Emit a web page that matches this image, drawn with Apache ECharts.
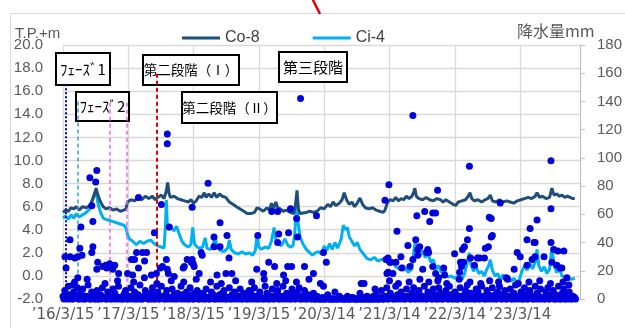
<!DOCTYPE html>
<html>
<head>
<meta charset="utf-8">
<script src="https://cdn.jsdelivr.net/npm/echarts@6/dist/echarts.min.js"></script>
<style>
  html, body { margin: 0; padding: 0; background: #fff; }
  #chart { width: 625px; height: 328px; }
</style>
</head>
<body>
<div id="chart"></div>
<script>
  // x = 2016/3/15 からの経過日数
  var co8 = [[0,5.5],[15,5.7],[30,5.6],[45,5.9],[60,5.8],[75,6.0],[90,5.7],[110,6.0],[130,5.9],[150,6.1],[165,6.6],[178,7.2],[185,7.6],[195,7.0],[210,6.4],[225,6.0],[240,5.8],[260,5.9],[280,5.7],[300,5.8],[320,5.6],[340,5.7],[352,5.8],[360,6.4],[380,6.6],[400,6.5],[420,6.8],[440,6.6],[460,6.9],[480,6.7],[500,6.9],[515,6.6],[530,6.8],[550,7.0],[565,6.7],[578,7.4],[585,8.1],[592,7.2],[600,6.8],[620,6.9],[640,6.7],[660,6.6],[680,6.5],[700,6.4],[715,6.6],[730,6.3],[745,6.5],[760,6.9],[775,6.8],[790,7.2],[800,6.8],[815,7.1],[830,6.8],[845,7.2],[860,6.8],[875,7.1],[890,6.9],[910,6.8],[930,6.4],[950,6.2],[970,6.0],[990,5.8],[1010,5.6],[1030,5.4],[1050,5.4],[1070,5.5],[1085,5.9],[1100,5.8],[1120,5.6],[1140,5.9],[1155,5.7],[1165,6.3],[1175,5.8],[1190,6.4],[1200,5.9],[1215,5.8],[1230,5.6],[1250,5.7],[1270,5.5],[1290,5.4],[1300,6.2],[1308,7.4],[1316,5.8],[1325,5.4],[1335,5.3],[1360,5.5],[1380,5.6],[1400,5.5],[1420,5.6],[1440,5.9],[1460,5.8],[1480,6.2],[1495,6.0],[1510,6.4],[1525,6.1],[1545,6.3],[1560,6.6],[1572,7.2],[1585,6.6],[1600,6.2],[1615,6.4],[1630,6.0],[1645,6.3],[1660,6.75],[1675,6.2],[1690,5.9],[1710,5.8],[1730,5.9],[1750,5.7],[1770,5.6],[1790,5.5],[1800,5.7],[1815,6.4],[1830,6.6],[1845,6.5],[1860,6.8],[1875,6.5],[1890,6.7],[1905,6.6],[1920,6.9],[1935,6.7],[1950,6.9],[1960,7.2],[1967,7.6],[1975,6.9],[1990,6.7],[2010,6.6],[2030,6.8],[2050,6.6],[2070,6.5],[2090,6.7],[2110,6.6],[2125,6.4],[2140,6.6],[2160,6.4],[2180,6.2],[2195,6.1],[2210,6.4],[2230,6.5],[2250,6.6],[2265,6.9],[2275,7.2],[2285,6.7],[2300,6.5],[2320,6.6],[2340,6.4],[2360,6.6],[2375,6.7],[2389,7.0],[2400,6.5],[2420,6.4],[2440,6.6],[2460,6.4],[2480,6.5],[2500,6.4],[2520,6.3],[2540,6.5],[2560,6.6],[2580,6.7],[2600,6.8],[2620,6.7],[2640,6.9],[2650,7.2],[2665,6.8],[2680,6.9],[2700,6.7],[2720,6.8],[2733,7.6],[2745,7.0],[2760,7.1],[2775,6.9],[2790,7.0],[2805,6.8],[2820,6.9],[2835,6.8],[2850,6.7],[2861,6.7]];

  var ci4 = [[0,5.0],[15,5.2],[30,4.9],[45,5.3],[60,5.0],[75,5.4],[90,5.1],[110,5.3],[130,5.5],[150,5.8],[165,6.6],[178,7.2],[185,7.4],[195,6.3],[210,5.5],[225,5.0],[240,4.9],[260,4.8],[280,4.7],[300,4.6],[320,4.5],[340,4.4],[352,4.2],[360,3.6],[372,3.2],[390,3.0],[410,2.7],[430,3.0],[450,2.8],[470,3.0],[490,3.1],[510,2.8],[530,2.6],[550,2.5],[565,2.4],[573,4.5],[578,6.6],[583,4.4],[590,4.0],[605,4.2],[620,3.9],[635,4.3],[650,3.6],[665,3.0],[680,2.7],[700,2.5],[715,2.7],[725,4.2],[735,2.8],[750,2.5],[765,2.4],[780,2.5],[795,3.3],[805,2.4],[820,2.3],[835,2.4],[850,3.5],[860,2.5],[880,2.2],[900,2.1],[920,2.4],[930,3.1],[940,2.3],[960,2.0],[980,1.9],[1000,2.1],[1020,1.9],[1040,2.0],[1060,1.8],[1075,2.2],[1085,3.5],[1095,2.5],[1110,2.3],[1130,2.5],[1150,2.4],[1165,3.0],[1180,4.2],[1190,3.1],[1205,2.8],[1220,2.6],[1240,3.2],[1255,2.7],[1270,2.5],[1285,2.6],[1295,3.5],[1303,5.5],[1308,6.4],[1315,4.5],[1325,3.4],[1340,2.8],[1360,2.3],[1380,2.0],[1395,1.8],[1410,2.0],[1428,2.1],[1445,1.9],[1460,2.6],[1475,2.2],[1490,2.8],[1505,2.3],[1520,2.9],[1535,2.4],[1555,3.2],[1567,4.4],[1578,4.0],[1590,4.2],[1600,3.4],[1615,3.0],[1630,2.6],[1645,2.9],[1660,2.3],[1680,1.9],[1700,1.5],[1720,1.4],[1740,1.6],[1760,1.3],[1780,1.4],[1795,1.5],[1810,1.2],[1825,1.0],[1840,1.3],[1860,0.8],[1880,0.6],[1900,0.9],[1915,0.6],[1930,0.3],[1950,0.6],[1960,2.0],[1970,3.0],[1980,2.1],[1995,1.7],[2010,2.2],[2025,1.6],[2040,2.0],[2055,1.2],[2070,1.4],[2085,0.6],[2100,0.9],[2115,0.3],[2130,0.6],[2150,-0.1],[2170,0.0],[2190,-0.2],[2210,0.0],[2230,-0.3],[2245,0.2],[2255,0.8],[2265,1.6],[2272,2.0],[2280,1.0],[2295,0.4],[2310,0.8],[2325,0.2],[2340,0.4],[2355,0.0],[2370,0.6],[2380,0.9],[2389,1.4],[2400,0.5],[2415,0.0],[2430,0.2],[2445,-0.4],[2460,0.1],[2475,-0.3],[2490,0.0],[2505,-0.5],[2520,-0.2],[2535,-0.5],[2550,-0.4],[2565,0.4],[2580,0.9],[2595,0.5],[2610,1.1],[2625,0.6],[2640,1.2],[2650,2.3],[2660,0.9],[2675,0.4],[2690,0.8],[2705,0.2],[2720,0.6],[2733,2.5],[2745,0.9],[2760,0.3],[2775,0.6],[2790,0.0],[2805,-0.1],[2820,-0.2],[2840,-0.3],[2861,-0.2]];

  // 降水量 mm（目立つ日）
  var rainPeaks = [[1328,142],[1956,130],[583,117],[583,110],[189,91],[150,86],[183,83],[811,82],[161,66],[167,55],[100,51],[422,72],[550,67],[722,65],[878,54],[1167,62],[1200,62],[1272,64],[1306,57],[1417,59],[1822,81],[1800,70],[2094,77],[1978,59],[2022,62],[2050,55],[2067,61],[2083,61],[2272,94],[2383,58],[2394,57],[2444,68],[2728,98],[2728,64],[2650,56],[2272,50],[2611,50],[1867,48],[1972,42],[1928,38],[1994,37],[1983,35],[1983,31],[2039,35],[2044,33],[1889,30],[1456,33],[1472,26],[1817,29],[1833,26],[1861,26],[1811,18],[1894,22],[1939,23],[2011,21],[2100,15],[2128,22],[1683,11],[1744,7],[2261,42],[2394,44],[2378,37],[2639,40],[2233,35],[2189,32],[2278,29],[2317,29],[2356,29],[2556,30],[2728,40],[2767,34],[2800,34],[2639,30],[2689,30],[2733,26],[2222,26],[2228,23],[2217,19],[2300,24],[2522,21],[2761,24],[2789,22],[2478,15],[39,42],[167,37],[94,36],[106,31],[161,33],[11,30],[39,30],[67,29],[83,30],[17,22],[56,10],[189,21],[222,23],[239,24],[261,25],[289,24],[194,26],[278,21],[311,18],[361,18],[389,17],[383,28],[400,28],[411,33],[444,33],[467,33],[511,47],[594,51],[583,21],[589,18],[494,17],[522,18],[717,26],[733,23],[761,18],[678,23],[772,33],[844,44],[844,37],[878,37],[917,45],[928,29],[861,17],[911,18],[944,18],[1050,5],[1089,45],[1083,21],[1122,18],[1150,26],[1183,23],[1206,46],[1200,40],[1233,17],[1261,47],[1256,23],[1278,23],[1311,44],[1350,23],[1400,18],[722,28],[728,25],[778,31],[544,22],[556,23],[578,28],[622,16],[672,22],[694,28],[422,22],[456,27],[244,22],[83,15],[1667,11],[1806,28],[1828,26],[1817,19],[1844,18],[1956,28],[2033,33],[2067,23],[2083,18],[2133,17],[2244,37],[2239,26],[2361,36],[2400,45],[2328,29],[2539,33],[2594,42],[2633,40],[2594,24],[2622,28],[2744,35],[2778,22],[2817,15],[2828,10],[1456,9],[1439,11]];

  // 降水量 mm（10日ごとの少雨、0日目から）
  var rainStep = 10;
  var rainLow = [
    2,6,0,9,3,0,5,1,8,0,4,7,0,2,10,0,5,3,0,6,
    0,3,8,1,0,5,2,0,7,4,0,9,1,0,3,6,0,2,8,0,
    5,0,3,10,0,2,6,1,0,4,8,0,3,5,0,9,2,0,6,1,
    0,7,3,0,4,1,9,0,2,5,0,8,3,0,1,6,0,4,2,0,
    7,1,0,5,3,0,9,2,0,4,6,0,1,8,0,3,5,0,2,7,
    0,4,1,0,6,3,0,8,2,0,5,1,0,9,4,0,2,7,0,3,
    6,0,2,9,0,4,1,0,7,3,0,5,8,0,2,6,0,3,1,0,
    4,0,2,0,0,1,0,0,3,0,0,0,5,0,0,1,0,0,0,2,
    0,0,1,0,0,0,4,0,0,0,2,0,0,0,0,3,0,0,6,0,
    2,8,0,4,1,0,9,3,0,5,2,0,7,1,0,4,8,0,3,6,
    0,2,9,0,5,1,0,7,3,0,8,4,0,2,6,0,9,1,0,5,
    3,0,8,2,0,6,10,0,4,1,0,7,5,0,9,2,0,6,3,0,
    8,1,0,5,9,0,3,6,0,2,7,0,4,10,0,1,5,0,8,3,
    0,6,2,0,9,4,0,7,1,0,5,8,0,3,6,0,2,9,0,4,
    7,0,3,5,0,2,1
  ];
  // 同じく5日目から10日ごと
  var rainLow2 = [
    0,1,3,0,2,0,12,1,0,3,0,2,0,14,1,0,3,0,1,0,
    2,0,1,11,0,3,0,1,0,2,13,0,1,0,4,0,2,0,1,12,
    0,3,0,1,0,15,2,0,1,0,3,0,11,0,2,1,0,3,0,1,
    13,0,2,0,1,0,3,12,0,1,0,2,0,4,14,0,1,0,3,0,
    1,0,12,2,0,1,0,3,11,0,2,0,1,0,3,0,13,1,0,2,
    0,1,0,3,0,12,1,0,2,0,1,0,14,0,3,0,1,0,2,11,
    0,2,0,1,13,0,3,0,1,0,12,2,0,1,0,3,0,14,0,1,
    0,0,1,0,0,0,0,1,0,0,0,0,0,0,2,0,0,0,0,0,
    0,1,0,0,0,0,0,0,1,0,0,0,0,2,0,0,0,1,0,0,
    1,0,13,2,0,1,0,11,3,0,1,0,2,12,0,1,0,3,0,14,
    2,0,1,0,12,3,0,1,0,13,0,2,0,1,11,0,3,0,1,0,
    0,14,1,0,3,0,2,12,0,1,0,3,0,11,1,0,2,0,13,1,
    0,3,0,12,1,0,2,0,14,1,0,3,0,2,11,0,1,0,3,0,
    12,1,0,2,0,3,13,0,1,0,2,0,11,1,0,3,0,2,0,12,
    0,1,0,2,0,1,0
  ];

  // 区切り線の日付（ﾌｪｰｽﾞ1, ﾌｪｰｽﾞ2 開始, ﾌｪｰｽﾞ2 区間, 第二段階）
  var markDays = [17, 83, 261, 356, 522];
  var markTops = [16.6, 15.1, 15.0, 15.0, 17.5];

  var leftTicks = { min: -2, max: 20, interval: 2 };
  var rightTicks = { min: 0, max: 180, interval: 20 };
  var xRange = { min: 0, max: 2890, interval: 365 };

  var baseDay = Date.UTC(2016, 2, 15);
  function dayLabel(v) {
    if (v % 365 !== 0) return '';
    var d = new Date(baseDay + v * 86400000);
    return '\u2019' + String(d.getUTCFullYear()).slice(2) + '/' + (d.getUTCMonth() + 1) + '/' + d.getUTCDate();
  }

  var rainData = rainPeaks
    .concat(rainLow.map(function (v, i) { return [i * rainStep, v]; }))
    .concat(rainLow2.map(function (v, i) { return [5 + i * rainStep, v]; }));

  var markStyles = [
    { color: '#0000C8', type: [2, 2], width: 2 },
    { color: '#2AA6D6', type: [4, 3], width: 1.5 },
    { color: '#E868E8', type: [4, 3], width: 1.5 },
    { color: '#E868E8', type: [4, 3], width: 1.5 },
    { color: '#E00000', type: [4, 3], width: 2 }
  ];
  var markData = markDays.map(function (d, i) {
    return [
      { coord: [d, markTops[i]], lineStyle: markStyles[i] },
      { coord: [d, leftTicks.min] }
    ];
  });

  var gray = '#595959';
  var font = '"Liberation Sans", Arial, sans-serif';
  var jp = '"Noto Sans CJK JP", sans-serif';

  function box(x, y, w, h, text, size) {
    return {
      type: 'group', z: 1,
      children: [
        { type: 'rect', z: 1, shape: { x: x, y: y, width: w, height: h },
          style: { fill: '#fff', stroke: '#000', lineWidth: 2 } },
        { type: 'text', z: 1, x: x + w / 2, y: y + h / 2,
          style: { text: text, fill: '#000', font: size + 'px ' + jp, align: 'center', verticalAlign: 'middle' } }
      ]
    };
  }

  var option = {
    animation: false,
    backgroundColor: '#fff',
    grid: { left: 63, right: 42, top: 45, bottom: 29 },
    legend: {
      data: ['Co-8', 'Ci-4'],
      left: 177, top: 25,
      icon: 'rect', itemWidth: 38, itemHeight: 3, itemGap: 53,
      textStyle: { fontSize: 16, color: '#404040', fontFamily: font }
    },
    xAxis: {
      type: 'value',
      min: xRange.min, max: xRange.max, interval: xRange.interval,
      axisLine: { show: true, lineStyle: { color: '#D9D9D9' } },
      axisTick: { show: false },
      splitLine: { show: true, lineStyle: { color: '#D9D9D9', width: 1.3 } },
      axisLabel: { formatter: dayLabel, color: gray, fontSize: 15, fontFamily: '"DejaVu Sans", sans-serif', margin: 9 }
    },
    yAxis: [{
      type: 'value',
      min: leftTicks.min, max: leftTicks.max, interval: leftTicks.interval,
      axisLine: { show: true, lineStyle: { color: '#D9D9D9' } },
      axisTick: { show: false },
      splitLine: { show: true, lineStyle: { color: '#D9D9D9', width: 1.3 } },
      axisLabel: { formatter: function (v) { return v.toFixed(1); }, color: gray, fontSize: 15, fontFamily: font, margin: 20 }
    }, {
      type: 'value', position: 'right',
      min: rightTicks.min, max: rightTicks.max, interval: rightTicks.interval,
      axisLine: { show: true, lineStyle: { color: '#BFBFBF' } },
      axisTick: { show: true, inside: false, length: 5, lineStyle: { color: '#BFBFBF' } },
      splitLine: { show: false },
      axisLabel: { color: gray, fontSize: 15, fontFamily: font, margin: 17 }
    }],
    series: [{
      name: 'Ci-4', type: 'line', yAxisIndex: 0, data: ci4,
      showSymbol: false, lineStyle: { color: '#00B0F0', width: 3 }, itemStyle: { color: '#00B0F0' }, z: 3
    }, {
      name: 'Co-8', type: 'line', yAxisIndex: 0, data: co8,
      showSymbol: false, lineStyle: { color: '#1F4E79', width: 3 }, itemStyle: { color: '#1F4E79' }, z: 4,
      markLine: { silent: true, symbol: ['none', 'none'], label: { show: false }, data: markData }
    }, {
      name: '降水量', type: 'scatter', yAxisIndex: 1, data: rainData,
      symbolSize: 7, itemStyle: { color: '#0000DD', opacity: 1 }, z: 5
    }],
    graphic: [
      { type: 'rect', z: 0, shape: { x: 10.5, y: 13.5, width: 700, height: 400 },
        style: { fill: 'none', stroke: '#D9D9D9', lineWidth: 1 } },
      { type: 'line', z: 10, shape: { x1: 311, y1: -4, x2: 320, y2: 14 },
        style: { stroke: '#E00000', lineWidth: 2.5 } },
      { type: 'text', left: 15, top: 26, style: { text: 'T.P.+m', fill: gray, font: '15px ' + font } },
      { type: 'text', left: 517, top: 23, style: { text: '降水量mm', fill: gray, font: '16px ' + jp } },
      box(56, 53, 54, 32, 'ﾌｪｰｽﾞ1', 15),
      box(143, 55, 96, 30, '第二段階（Ⅰ）', 13.5),
      box(279, 52, 68, 30, '第三段階', 15),
      box(76, 92, 53, 29, 'ﾌｪｰｽﾞ2', 15),
      box(182, 92, 95, 31, '第二段階（Ⅱ）', 13.5)
    ]
  };

  echarts.init(document.getElementById('chart')).setOption(option);
</script>
</body>
</html>
